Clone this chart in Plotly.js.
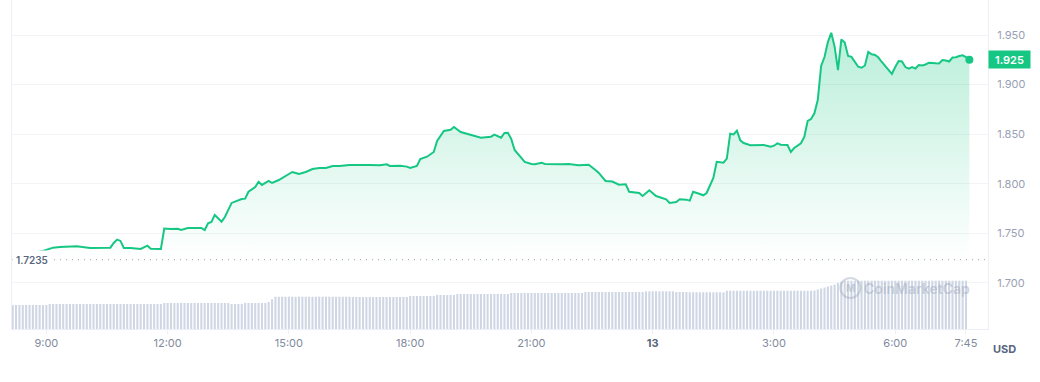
<!DOCTYPE html>
<html><head><meta charset="utf-8">
<script src="https://cdn.plot.ly/plotly-3.0.1.min.js"></script>
<style>html,body{margin:0;padding:0;background:#fff}#chart{width:1040px;height:382px}</style>
</head><body><div id="chart"></div>
<script>
// ---- data ----
const priceTimes = [
'2023-07-12 08:10','2023-07-12 08:25','2023-07-12 08:40','2023-07-12 08:55','2023-07-12 09:05','2023-07-12 09:10',
'2023-07-12 09:20','2023-07-12 09:35','2023-07-12 09:45','2023-07-12 10:05','2023-07-12 10:20','2023-07-12 10:35',
'2023-07-12 10:40','2023-07-12 10:45','2023-07-12 10:50','2023-07-12 10:55','2023-07-12 11:05','2023-07-12 11:20',
'2023-07-12 11:30','2023-07-12 11:35','2023-07-12 11:50','2023-07-12 11:55','2023-07-12 12:05','2023-07-12 12:15',
'2023-07-12 12:20','2023-07-12 12:30','2023-07-12 12:50','2023-07-12 12:55','2023-07-12 13:00','2023-07-12 13:05',
'2023-07-12 13:10','2023-07-12 13:20','2023-07-12 13:25','2023-07-12 13:35','2023-07-12 13:50','2023-07-12 13:55',
'2023-07-12 14:00','2023-07-12 14:10','2023-07-12 14:15','2023-07-12 14:20','2023-07-12 14:30','2023-07-12 14:35',
'2023-07-12 14:45','2023-07-12 14:55','2023-07-12 15:05','2023-07-12 15:10','2023-07-12 15:15','2023-07-12 15:25',
'2023-07-12 15:35','2023-07-12 15:45','2023-07-12 15:55','2023-07-12 16:05','2023-07-12 16:15','2023-07-12 16:30',
'2023-07-12 16:45','2023-07-12 17:00','2023-07-12 17:15','2023-07-12 17:25','2023-07-12 17:30','2023-07-12 17:45',
'2023-07-12 17:55','2023-07-12 18:00','2023-07-12 18:10','2023-07-12 18:15','2023-07-12 18:25','2023-07-12 18:30',
'2023-07-12 18:35','2023-07-12 18:40','2023-07-12 18:45','2023-07-12 18:50','2023-07-12 19:00','2023-07-12 19:05',
'2023-07-12 19:15','2023-07-12 19:30','2023-07-12 19:45','2023-07-12 20:00','2023-07-12 20:05','2023-07-12 20:15',
'2023-07-12 20:20','2023-07-12 20:25','2023-07-12 20:30','2023-07-12 20:35','2023-07-12 20:45','2023-07-12 20:50',
'2023-07-12 21:00','2023-07-12 21:05','2023-07-12 21:15','2023-07-12 21:20','2023-07-12 21:45','2023-07-12 21:55',
'2023-07-12 22:10','2023-07-12 22:25','2023-07-12 22:35','2023-07-12 22:40','2023-07-12 22:50','2023-07-12 23:00',
'2023-07-12 23:10','2023-07-12 23:20','2023-07-12 23:25','2023-07-12 23:35','2023-07-12 23:40','2023-07-12 23:45',
'2023-07-12 23:55','2023-07-13 00:05','2023-07-13 00:10','2023-07-13 00:20','2023-07-13 00:25','2023-07-13 00:35',
'2023-07-13 00:40','2023-07-13 00:50','2023-07-13 00:55','2023-07-13 01:00','2023-07-13 01:10','2023-07-13 01:15',
'2023-07-13 01:20','2023-07-13 01:30','2023-07-13 01:35','2023-07-13 01:45','2023-07-13 01:50','2023-07-13 01:55',
'2023-07-13 02:00','2023-07-13 02:05','2023-07-13 02:10','2023-07-13 02:15','2023-07-13 02:25','2023-07-13 02:40',
'2023-07-13 02:45','2023-07-13 02:55','2023-07-13 03:00','2023-07-13 03:05','2023-07-13 03:10','2023-07-13 03:20',
'2023-07-13 03:25','2023-07-13 03:30','2023-07-13 03:40','2023-07-13 03:45','2023-07-13 03:50','2023-07-13 03:55',
'2023-07-13 04:00','2023-07-13 04:05','2023-07-13 04:10','2023-07-13 04:15','2023-07-13 04:20','2023-07-13 04:25',
'2023-07-13 04:30','2023-07-13 04:35','2023-07-13 04:40','2023-07-13 04:45','2023-07-13 04:50','2023-07-13 04:55',
'2023-07-13 05:00','2023-07-13 05:05','2023-07-13 05:10','2023-07-13 05:15','2023-07-13 05:20','2023-07-13 05:25',
'2023-07-13 05:30','2023-07-13 05:35','2023-07-13 05:40','2023-07-13 05:45','2023-07-13 05:50','2023-07-13 05:55',
'2023-07-13 06:00','2023-07-13 06:05','2023-07-13 06:10','2023-07-13 06:15','2023-07-13 06:20','2023-07-13 06:25',
'2023-07-13 06:30','2023-07-13 06:35','2023-07-13 06:40','2023-07-13 06:45','2023-07-13 06:50','2023-07-13 06:55',
'2023-07-13 07:00','2023-07-13 07:05','2023-07-13 07:10','2023-07-13 07:15','2023-07-13 07:20','2023-07-13 07:25',
'2023-07-13 07:30','2023-07-13 07:35','2023-07-13 07:40','2023-07-13 07:45','2023-07-13 07:50'
];
const prices = [
1.7235,1.7272,1.7303,1.7323,1.7343,1.7356,
1.7363,1.7366,1.7370,1.7353,1.7356,1.7356,
1.7403,1.7437,1.7424,1.7353,1.7353,1.7343,
1.7376,1.7346,1.7343,1.7548,1.7544,1.7547,
1.7534,1.7555,1.7555,1.7534,1.7602,1.7615,
1.7686,1.7618,1.7665,1.7807,1.7847,1.7850,
1.7920,1.7968,1.8021,1.7988,1.8028,1.8008,
1.8038,1.8079,1.8119,1.8109,1.8099,1.8119,
1.8149,1.8159,1.8159,1.8180,1.8180,1.8190,
1.8193,1.8190,1.8187,1.8197,1.8180,1.8183,
1.8173,1.8159,1.8180,1.8250,1.8273,1.8300,
1.8321,1.8432,1.8485,1.8532,1.8545,1.8573,
1.8522,1.8495,1.8465,1.8475,1.8495,1.8465,
1.8512,1.8515,1.8452,1.8341,1.8253,1.8220,
1.8200,1.8197,1.8213,1.8200,1.8197,1.8200,
1.8187,1.8193,1.8139,1.8109,1.8028,1.8023,
1.7991,1.7995,1.7920,1.7914,1.7907,1.7877,
1.7935,1.7877,1.7867,1.7844,1.7807,1.7817,
1.7844,1.7840,1.7830,1.7920,1.7897,1.7884,
1.7907,1.8059,1.8222,1.8212,1.8253,1.8505,
1.8498,1.8535,1.8438,1.8411,1.8388,1.8388,
1.8391,1.8374,1.8384,1.8408,1.8394,1.8391,
1.8321,1.8361,1.8408,1.8472,1.8633,1.8653,
1.8711,1.8845,1.9188,1.9278,1.9429,1.9523,
1.9382,1.9147,1.9455,1.9424,1.9288,1.9280,
1.9228,1.9180,1.9170,1.9193,1.9329,1.9305,
1.9298,1.9273,1.9228,1.9188,1.9142,1.9107,
1.9177,1.9238,1.9233,1.9177,1.9162,1.9177,
1.9162,1.9198,1.9193,1.9203,1.9221,1.9221,
1.9215,1.9213,1.9248,1.9243,1.9233,1.9273,
1.9276,1.9288,1.9296,1.9278,1.9250
];
// 5-minute volume bars starting at volumeStart
const volumeStart = '2023-07-12 08:10';
const volumeStepMinutes = 5;
const volumes = [
24,24,24,24,24,24,24,24,24,24,24,
25,25,25,25,25,25,25,25,25,25,25,25,25,25,25,25,25,25,25,25,25,25,25,25,25,25,25,25,25,25,25,25,25,25,
26,26,26,26,26,26,26,26,26,26,26,26,26,26,26,26,26,26,26,26,
25,25,25,25,
26,26,26,26,26,26,26,
27,29.7,
32.3,32.3,32.3,32.3,32.3,32.3,32.3,32.3,32.3,32.3,32.3,32.3,32.3,32.3,32.3,32.3,32.3,32.3,32.3,32.3,32.3,32.3,32.3,
32,32,32,32,32,32,32,32,32,32,32,32,32,32,32,32,32,
33,33,33,33,33,33,33,33,
34,34,34,34,34,34,
35,35,35,35,35,35,35,35,35,35,35,35,35,35,35,35,
36,36,36,36,36,36,36,36,36,36,36,36,36,36,36,36,36,36,36,36,36,36,
37,37,37,37,37,37,37,37,37,37,37,37,37,37,37,37,37,37,
37.7,37.7,37.7,37.7,37.7,37.7,37.7,37.7,37.7,
37,37,37,37,
36.7,36.7,36.7,36.7,36.7,36.7,36.7,36.7,36.7,36.7,36.7,
38.3,38.3,38.3,38.3,38.3,38.3,38.3,38.3,38.3,38.3,38.3,38.3,38.3,38.3,38.3,38.3,38.3,38.3,38.3,38.3,38.3,38.3,38.3,38.3,38.3,38.3,
38.5,39.5,40.5,41.5,42.5,43.5,44.5,46,47.5,
48.3,48.3,48.3,48.3,48.3,48.3,48.3,48.3,48.3,48.3,48.3,48.3,48.3,48.3,48.3,48.3,48.3,48.3,48.3,48.3,48.3,48.3,48.3,48.3,48.3,48.3,48.3,48.3,48.3,48.3,48.3,48.3,48.3,48.3,48.3,48.3,48.3
];
const openPrice = 1.7235;
const lastPriceLabel = '1.925';
const xTickVals = ['2023-07-12 09:00','2023-07-12 12:00','2023-07-12 15:00','2023-07-12 18:00','2023-07-12 21:00',
                   '2023-07-13 00:00','2023-07-13 03:00','2023-07-13 06:00','2023-07-13 07:45'];
const xTickText = ['9:00','12:00','15:00','18:00','21:00','<span style="color:#58667e"><b>13</b></span>','3:00','6:00','7:45'];
const yTickVals = [1.70, 1.75, 1.80, 1.85, 1.90, 1.95];
const currency = 'USD';
const watermark = 'CoinMarketCap';

// ---- build ----
const t0 = Date.parse(volumeStart.replace(' ', 'T') + ':00Z');
const volTimes = volumes.map((_, i) =>
  new Date(t0 + i * volumeStepMinutes * 60000).toISOString().slice(0, 16).replace('T', ' '));

const green = '#16c784';
const font = 'Inter, "Noto Sans", sans-serif';

const traces = [
  { type: 'bar', x: volTimes, y: volumes, yaxis: 'y2',
    marker: { color: '#cfd6e4', line: { width: 0 } }, hoverinfo: 'skip' },
  { type: 'scatter', mode: 'lines', x: priceTimes, y: prices,
    line: { color: green, width: 2 },
    fill: 'tozeroy',
    fillgradient: { type: 'vertical', start: openPrice, stop: 1.985,
      colorscale: [[0, 'rgba(22,199,132,0)'], [1, 'rgba(22,199,132,0.34)']] } },
  { type: 'scatter', mode: 'markers', x: [priceTimes[priceTimes.length - 1]], y: [prices[prices.length - 1]],
    marker: { color: green, size: 8 } }
];

const layout = {
  width: 1040, height: 382,
  margin: { l: 12, r: 52, t: 0, b: 53 },
  paper_bgcolor: '#ffffff', plot_bgcolor: '#ffffff',
  showlegend: false,
  bargap: 0.38,
  font: { family: font },
  xaxis: {
    type: 'date', range: ['2023-07-12 08:09', '2023-07-13 08:17:40'],
    tickvals: xTickVals, ticktext: xTickText,
    showgrid: false, zeroline: false,
    showline: true, linecolor: '#eceff4', linewidth: 1,
    ticks: 'outside', ticklen: 4, tickcolor: '#eceff4',
    tickfont: { family: font, size: 11, color: '#808a9d' }
  },
  yaxis: {
    side: 'right', range: [1.6536, 1.9853],
    tickvals: yTickVals, tickformat: '.3f',
    showgrid: true, gridcolor: '#f3f4f7', zeroline: false,
    showline: true, mirror: true, linecolor: '#eceff4',
    ticks: '', ticklabelstandoff: 6,
    tickfont: { family: font, size: 11, color: '#98a0b3' }
  },
  yaxis2: { overlaying: 'y', range: [0, 329], visible: false },
  shapes: [
    { type: 'line', xref: 'paper', x0: 0, x1: 1, yref: 'y', y0: openPrice, y1: openPrice,
      line: { color: '#9aa2b1', width: 1, dash: '1px,5px' } },
    { type: 'circle', xref: 'paper', yref: 'paper', xsizemode: 'pixel', ysizemode: 'pixel',
      xanchor: 0.859, yanchor: 0.125, x0: -10, x1: 10, y0: -10, y1: 10,
      line: { color: 'rgba(160,170,190,0.45)', width: 2 } }
  ],
  annotations: [
    { xref: 'paper', x: 0, xanchor: 'left', xshift: 0, yref: 'y', y: openPrice, yanchor: 'middle',
      text: openPrice.toFixed(4), showarrow: false, bgcolor: '#ffffff', borderpad: 3,
      font: { family: font, size: 10, color: '#58667e', weight: 600 } },
    { xref: 'paper', x: 1, xanchor: 'left', yref: 'y', y: prices[prices.length - 1], yanchor: 'middle',
      text: lastPriceLabel, showarrow: false, bgcolor: green, borderpad: 3, width: 35, height: 11,
      font: { family: font, size: 11, color: '#ffffff', weight: 600 } },
    { xref: 'paper', x: 1.0169, xanchor: 'center', yref: 'paper', y: -0.061, yanchor: 'middle',
      text: currency, showarrow: false,
      font: { family: font, size: 11, color: '#58667e', weight: 700 } },
    { xref: 'paper', x: 0.927, xanchor: 'center', yref: 'paper', y: 0.122, yanchor: 'middle',
      text: watermark, showarrow: false,
      font: { family: font, size: 14, color: 'rgba(160,170,190,0.5)', weight: 600 } },
    { xref: 'paper', x: 0.859, xanchor: 'center', yref: 'paper', y: 0.125, yanchor: 'middle',
      text: 'M', showarrow: false,
      font: { family: font, size: 10, color: 'rgba(160,170,190,0.5)', weight: 700 } }
  ]
};

Plotly.newPlot('chart', traces, layout, { displayModeBar: false, staticPlot: true });
</script>
</body></html>
